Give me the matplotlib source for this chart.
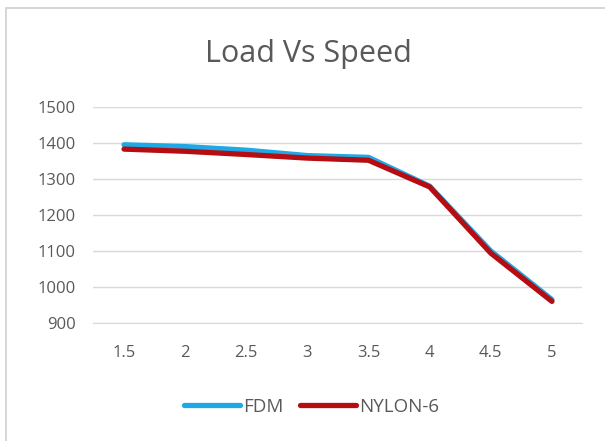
import matplotlib.pyplot as plt
from matplotlib.patches import Rectangle

speed = ["1.5", "2", "2.5", "3", "3.5", "4", "4.5", "5"]
fdm = [1395, 1390, 1380, 1365, 1360, 1280, 1100, 965]
nylon = [1383, 1377, 1368, 1358, 1352, 1278, 1094, 960]

plt.rcParams['font.family'] = ['Open Sans', 'DejaVu Sans']

fig = plt.figure(figsize=(6.05, 4.41), dpi=100)
ax = fig.add_axes([0.1545, 0.2676, 0.8083, 0.4898])

# chart border
fig.patches.append(Rectangle((6/605, -0.01), 1.0, 1 - 8/441 + 0.01, transform=fig.transFigure,
                             fill=False, edgecolor='#d0d0d0', linewidth=1.2))

x = range(len(speed))
ax.plot(x, fdm, color='#1ea8e6', linewidth=3.8, label='FDM', solid_capstyle='round')
ax.plot(x, nylon, color='#b50d12', linewidth=3.8, label='NYLON-6', solid_capstyle='round')

ax.set_xlim(-0.5, len(speed) - 0.5)
ax.set_ylim(900, 1500)
ax.set_yticks(range(900, 1501, 100))
ax.set_xticks(list(x))
ax.set_xticklabels(speed)
ax.grid(axis='y', color='#d9d9d9', linewidth=1)
ax.set_axisbelow(True)
for s in ['top', 'right', 'left']:
    ax.spines[s].set_visible(False)
ax.spines['bottom'].set_color('#d9d9d9')
ax.tick_params(axis='both', length=0, labelsize=12, labelcolor='#595959')
ax.tick_params(axis='x', pad=16)
ax.tick_params(axis='y', pad=13)

fig.text(0.51, 0.877, 'Load Vs Speed', ha='center', va='center', fontsize=22, color='#595959')

fig.legend(loc='center', bbox_to_anchor=(0.515, 0.077), ncol=2, frameon=False,
           fontsize=13.5, labelcolor='#595959', handlelength=3.0, columnspacing=0.9,
           handletextpad=0.15)

fig.savefig('out.png', dpi=100, facecolor='white')
